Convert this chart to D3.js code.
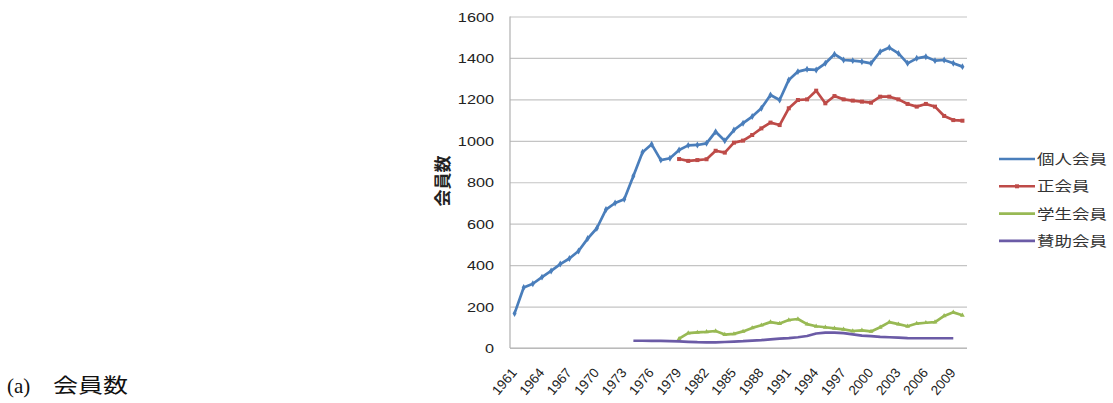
<!DOCTYPE html>
<html>
<head>
<meta charset="utf-8">
<script src="https://cdn.jsdelivr.net/npm/d3@7"></script>
<style>
  html, body { margin: 0; padding: 0; background: #fff; }
  svg { display: block; }
  .tick-label { font-family: "Liberation Sans", Arial, sans-serif; font-size: 12.5px; fill: #222; }
</style>
</head>
<body>
<div id="chart"></div>
<script>
// categories (one per year)
const years = [1961, 1962, 1963, 1964, 1965, 1966, 1967, 1968, 1969, 1970,
    1971, 1972, 1973, 1974, 1975, 1976, 1977, 1978, 1979, 1980,
    1981, 1982, 1983, 1984, 1985, 1986, 1987, 1988, 1989, 1990,
    1991, 1992, 1993, 1994, 1995, 1996, 1997, 1998, 1999, 2000,
    2001, 2002, 2003, 2004, 2005, 2006, 2007, 2008, 2009, 2010]

// 個人会員 1961-2010
const individual = [167, 292, 310, 342, 372, 405, 432, 468, 528, 578,
    668, 700, 718, 830, 945, 983, 907, 916, 956, 978,
    980, 988, 1044, 1000, 1052, 1085, 1117, 1157, 1221, 1197,
    1294, 1334, 1345, 1342, 1374, 1418, 1390, 1387, 1382, 1374,
    1430, 1450, 1422, 1374, 1398, 1406, 1387, 1390, 1374, 1358]

// 正会員 1979-2010
const regularStart = 1979
const regular = [912, 903, 907, 911, 952, 943, 991, 1001, 1028, 1060,
    1088, 1076, 1157, 1197, 1200, 1242, 1181, 1216, 1200, 1194,
    1189, 1184, 1213, 1213, 1200, 1178, 1165, 1178, 1165, 1120,
    1100, 1097]

// 学生会員 1979-2010
const studentStart = 1979
const student = [45, 72, 75, 78, 82, 65, 68, 80, 97, 110,
    125, 118, 135, 140, 115, 105, 100, 95, 90, 82,
    85, 80, 100, 125, 115, 105, 118, 122, 125, 155,
    172, 158]

// 賛助会員 1974-2009
const supportStart = 1974
const supporting = [35, 35, 34, 34, 33, 32, 30, 28, 27, 27,
    29, 31, 33, 36, 38, 42, 45, 48, 52, 58,
    70, 74, 74, 72, 66, 60, 57, 54, 52, 50,
    48, 47, 47, 47, 47, 47]

const yTicks = [0, 200, 400, 600, 800, 1000, 1200, 1400, 1600]
const xTickLabels = [1961, 1964, 1967, 1970, 1973, 1976, 1979, 1982, 1985, 1988, 1991, 1994, 1997, 2000, 2003, 2006, 2009]

const seriesNames = ['個人会員', '正会員', '学生会員', '賛助会員']
const colors = ['#4a7ebb', '#be4b48', '#98b954', '#6b5ba6']

const width = 1113, height = 403
const plot = { left: 510, right: 967, top: 16.5, bottom: 348 }

const svg = d3.select('#chart').append('svg')
    .attr('width', width)
    .attr('height', height)

const x = d3.scaleBand()
    .domain(years)
    .range([plot.left, plot.right])
const cx = (yr) => x(yr) + x.bandwidth() / 2

const y = d3.scaleLinear()
    .domain([0, 1600])
    .range([plot.bottom, plot.top])

// gridlines + y labels
const yAxis = svg.append('g')
    .attr('transform', `translate(${plot.left},0)`)
    .call(d3.axisLeft(y)
        .tickValues(yTicks)
        .tickFormat(d3.format('d'))
        .tickSize(-(plot.right - plot.left))
        .tickPadding(0))
yAxis.select('.domain').remove()
yAxis.selectAll('.tick line')
    .attr('stroke', '#c4c4c4')
    .attr('stroke-width', 1.2)
yAxis.selectAll('.tick text')
    .attr('class', 'tick-label')
    .attr('x', null)
    .attr('dy', '0.36em')
    .attr('text-anchor', 'end')
    .attr('transform', 'translate(-16,0) scale(1.3,1)')

// axis lines
svg.append('line')
    .attr('x1', plot.left).attr('x2', plot.left)
    .attr('y1', plot.top).attr('y2', plot.bottom)
    .attr('stroke', '#b0b0b0').attr('stroke-width', 1.2)
svg.append('line')
    .attr('x1', plot.left).attr('x2', plot.right)
    .attr('y1', plot.bottom).attr('y2', plot.bottom)
    .attr('stroke', '#b0b0b0').attr('stroke-width', 1.2)

// x labels, rotated
svg.append('g')
    .selectAll('text')
    .data(xTickLabels)
    .enter()
    .append('text')
    .attr('class', 'tick-label')
    .style('font-size', '13.5px')
    .attr('text-anchor', 'end')
    .attr('transform', (d) => `translate(${cx(d) + 3},${plot.bottom + 25}) rotate(-50)`)
    .text((d) => d)

// y title
svg.append('text')
    .attr('transform', `translate(449,181) rotate(-90)`)
    .attr('text-anchor', 'middle')
    .style('font-family', '"Noto Sans CJK JP", sans-serif')
    .style('font-size', '17px')
    .style('font-weight', 'bold')
    .style('fill', '#222')
    .text('会員数')

// series
const toPoints = (vals, start) => vals.map((v, i) => ({ year: start + i, value: v }))
const series = [
    { name: seriesNames[0], color: colors[0], pts: toPoints(individual, years[0]), marker: 'diamond' },
    { name: seriesNames[1], color: colors[1], pts: toPoints(regular, regularStart), marker: 'square' },
    { name: seriesNames[2], color: colors[2], pts: toPoints(student, studentStart), marker: 'triangle' },
    { name: seriesNames[3], color: colors[3], pts: toPoints(supporting, supportStart), marker: null },
]

const line = d3.line()
    .x((d) => cx(d.year))
    .y((d) => y(d.value))

const symbolFor = {
    diamond: d3.symbol().type(d3.symbolDiamond).size(14),
    square: d3.symbol().type(d3.symbolSquare).size(16),
    triangle: d3.symbol().type(d3.symbolTriangle).size(10),
}

series.forEach((s) => {
    svg.append('path')
        .datum(s.pts)
        .attr('fill', 'none')
        .attr('stroke', s.color)
        .attr('stroke-width', 2.7)
        .attr('stroke-linejoin', 'round')
        .attr('d', line)
    if (s.marker) {
        svg.append('g')
            .selectAll('path')
            .data(s.pts)
            .enter()
            .append('path')
            .attr('transform', (d) => `translate(${cx(d.year)},${y(d.value)})`)
            .attr('d', symbolFor[s.marker])
            .attr('fill', s.color)
    }
})

// legend
const legend = svg.append('g')
    .selectAll('g')
    .data(series)
    .enter()
    .append('g')
    .attr('transform', (d, i) => `translate(999,${159 + i * 27.3})`)

legend.append('line')
    .attr('x1', 0).attr('x2', 36)
    .attr('stroke', (d) => d.color)
    .attr('stroke-width', 2.6)
legend.filter((d) => d.marker === 'square')
    .append('path')
    .attr('transform', 'translate(18,0)')
    .attr('d', symbolFor.square)
    .attr('fill', (d) => d.color)
legend.append('text')
    .attr('transform', 'translate(38,5) scale(1.25,1)')
    .style('font-family', '"Noto Sans CJK JP", sans-serif')
    .style('font-size', '14px')
    .style('fill', '#333')
    .text((d) => d.name)

// caption
svg.append('text')
    .attr('transform', 'translate(7,393) scale(1.05,1)')
    .style('font-family', '"Liberation Serif", "Times New Roman", serif')
    .style('font-size', '20px')
    .style('fill', '#111')
    .text('(a)')
svg.append('text')
    .attr('transform', 'translate(53,393) scale(1.25,1)')
    .style('font-family', '"Noto Sans CJK JP", sans-serif')
    .style('font-size', '20px')
    .style('fill', '#111')
    .text('会員数')
</script>
</body>
</html>
